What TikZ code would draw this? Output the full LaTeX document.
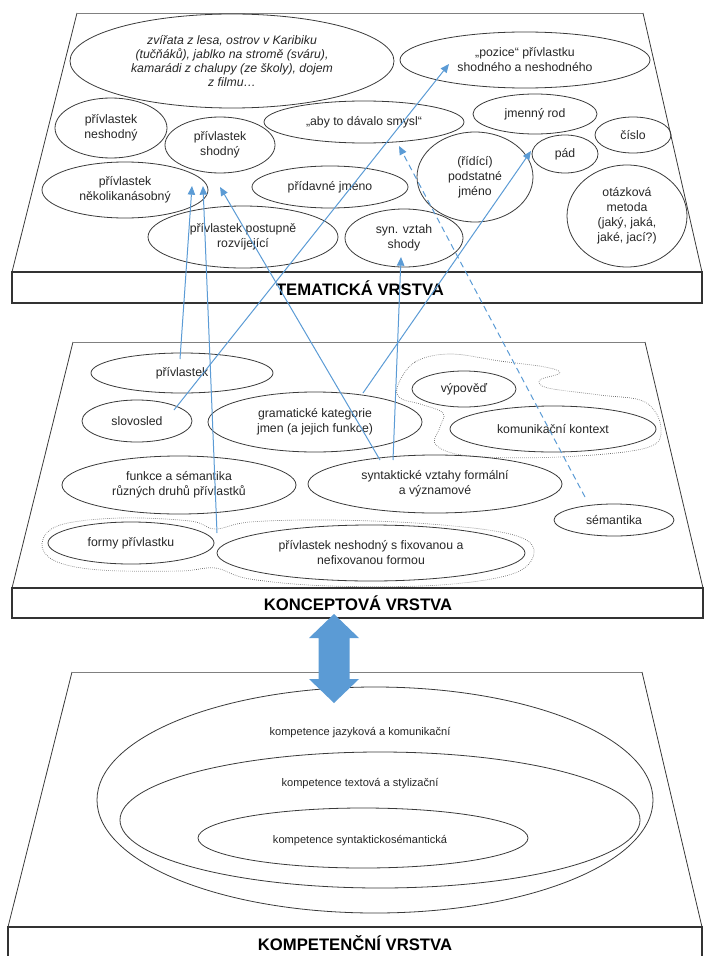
\documentclass[tikz,border=0pt]{standalone}
\usepackage{fontspec}
\setmainfont{Liberation Sans}
\usetikzlibrary{shapes.geometric,arrows.meta,calc}
\definecolor{arrblue}{HTML}{5B9BD5}
\definecolor{edgec}{HTML}{3A3A3A}
\definecolor{lightedge}{HTML}{808080}
\begin{document}
\begin{tikzpicture}[x=0.75pt,y=-0.75pt,
  el/.style n args={2}{draw=edgec, line width=0.6pt, ellipse, inner sep=0pt,
     minimum width=#1*0.75pt, minimum height=#2*0.75pt, align=center,
     font=\fontsize{9.2}{11.2}\selectfont, text=black!85},
  kel/.style n args={2}{draw=edgec, line width=0.6pt, ellipse, inner sep=0pt,
     minimum width=#1*0.75pt, minimum height=#2*0.75pt},
  ktext/.style={font=\fontsize{8.3}{10}\selectfont, text=black!85, inner sep=0pt},
  bandtext/.style={font=\bfseries\fontsize{12.5}{14}\selectfont, inner sep=0pt},
  plane/.style={draw=edgec, line width=0.6pt},
  band/.style={draw=black!80, line width=0.9pt},
  conn/.style={draw=arrblue, line width=0.75pt, -{Triangle[length=6.5pt,width=5.5pt]}},
  dconn/.style={conn, dash pattern=on 4.5pt off 3pt},
  blob/.style={draw=black!60, line width=0.5pt, densely dotted}
]
\useasboundingbox (0,0) rectangle (703,956);

% ---------------- TEMATICKA VRSTVA ----------------
\draw[plane] (12,272) -- (77,13);
\draw[plane, draw=lightedge] (77,13) -- (643,13);
\draw[plane] (643,13) -- (702,272);
\draw[band] (12,272) rectangle (702,303);
\node[bandtext] (tvrstva) at (360,288) {TEMATICKÁ VRSTVA};

\node[el={324}{94}, font=\itshape\fontsize{9.2}{10.6}\selectfont] (zvirata) at (232,61)
  {zvířata z lesa, ostrov v Karibiku\\(tučňáků), jablko na stromě (sváru),\\kamarádi z chalupy (ze školy), dojem\\z filmu…};
\node[el={250}{56}] (pozice) at (525,60) {„pozice“ přívlastku\\shodného a neshodného};
\node[el={124}{40}] (rod) at (535,114) {jmenný rod};
\node[el={76}{36}] (cislo) at (633,135) {číslo};
\node[el={66}{38}] (pad) at (565,154) {pád};
\node[el={200}{42}] (smysl) at (364,122) {„aby to dávalo smysl“};
\node[el={112}{60}] (neshodny) at (111,128) {přívlastek\\neshodný};
\node[el={110}{56}] (shodny) at (220,145) {přívlastek\\shodný};
\node[el={166}{56}] (nekolik) at (125,190) {přívlastek\\několikanásobný};
\node[el={156}{42}] (pridavne) at (330,187) {přídavné jméno};
\node[el={116}{90}] (ridici) at (475,177) {(řídící)\\podstatné\\jméno};
\node[el={120}{102}] (otazkova) at (627,216) {otázková\\metoda\\(jaký, jaká,\\jaké, jací?)};
\node[el={190}{62}] (postupne) at (243,237) {přívlastek postupně\\rozvíjející};
\node[el={118}{58}] (synvztah) at (404,238) {syn. vztah\\shody};

% ---------------- KONCEPTOVA VRSTVA ----------------
\draw[plane] (12,588) -- (73,342);
\draw[plane, draw=lightedge] (73,342) -- (645,342);
\draw[plane] (645,342) -- (703,588);
\draw[band] (12,588) rectangle (703,618);
\node[bandtext] (kvrstva) at (358,603) {KONCEPTOVÁ VRSTVA};

\draw[blob] plot[smooth cycle, tension=0.6] coordinates {(398,385) (415,362) (450,354) (500,361) (545,367) (560,373) (540,380) (548,388) (600,395) (645,402) (661,428) (646,448) (560,457) (470,456) (436,445) (440,427) (443,413) (420,404) (400,398)};
\draw[blob] plot[smooth cycle, tension=0.6] coordinates {(42,543) (60,525) (120,518) (190,521) (215,529) (250,522) (330,520) (430,524) (510,534) (534,550) (515,573) (440,585) (330,586) (250,579) (215,568) (180,571) (100,570) (55,561)};

\node[el={182}{40}] (kprivl) at (182,373) {přívlastek};
\node[el={110}{42}] (slovosled) at (137,421) {slovosled};
\node[el={214}{60}] (gramkat) at (315,422) {gramatické kategorie\\jmen (a jejich funkce)};
\node[el={104}{36}] (vypoved) at (464,389) {výpověď};
\node[el={206}{46}] (komkont) at (553,429) {komunikační kontext};
\node[el={234}{58}] (funkce) at (179,485) {funkce a sémantika\\různých druhů přívlastků};
\node[el={254}{58}] (syntakt) at (435,484) {syntaktické vztahy formální\\a významové};
\node[el={120}{32}] (semantika) at (614,520) {sémantika};
\node[el={166}{42}] (formy) at (131,543) {formy přívlastku};
\node[el={308}{56}] (nesfix) at (371,553) {přívlastek neshodný s fixovanou a\\nefixovanou formou};

% ---------------- KOMPETENCNI VRSTVA ----------------
\draw[plane] (8,927) -- (72,672);
\draw[plane, draw=lightedge] (72,672) -- (642,672);
\draw[plane] (642,672) -- (702,927);
\draw[band] (8,958) -- (8,927) -- (702,927) -- (702,958);
\node[bandtext] (kompvrstva) at (355,943) {KOMPETENČNÍ VRSTVA};

\node[kel={556}{226}] (outer) at (375,800) {};
\node[kel={520}{136}] (middle) at (380,820) {};
\node[kel={330}{60}] (inner) at (363,838) {};
\node[ktext] (t1) at (360,733) {kompetence jazyková a komunikační};
\node[ktext] (t2) at (360,784) {kompetence textová a stylizační};
\node[ktext] (t3) at (360,841) {kompetence syntaktickosémantická};

% double arrow
\fill[arrblue] (334,614) -- (359,638) -- (349.5,638) -- (349.5,679) -- (359,679) -- (334,703)
  -- (309,679) -- (318.5,679) -- (318.5,638) -- (309,638) -- cycle;

% ---------------- connectors ----------------
\coordinate (a0) at (180,359); \coordinate (a1) at (192,186);
\coordinate (b0) at (217,533); \coordinate (b1) at (203,186);
\coordinate (c0) at (380,460); \coordinate (c1) at (220,187);
\coordinate (d0) at (174,410); \coordinate (d1) at (449,64);
\coordinate (e0) at (363,393); \coordinate (e1) at (531,151);
\coordinate (f0) at (393,460); \coordinate (f1) at (401,257);
\coordinate (g0) at (585,497); \coordinate (g1) at (399,146);
\draw[conn] (a0) -- (a1);
\draw[conn] (b0) -- (b1);
\draw[conn] (c0) -- (c1);
\draw[conn] (d0) -- (d1);
\draw[conn] (e0) -- (e1);
\draw[conn] (f0) -- (f1);
\draw[dconn] (g0) -- (g1);
\end{tikzpicture}
\end{document}
